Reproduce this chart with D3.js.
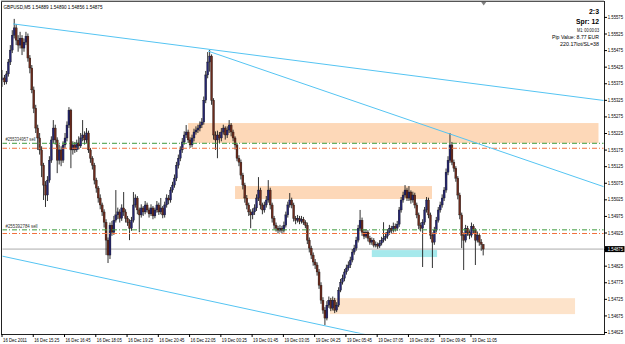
<!DOCTYPE html>
<html><head><meta charset="utf-8">
<script src="https://cdn.jsdelivr.net/npm/d3@7"></script>
<style>body{margin:0;background:#fff}svg{display:block}text{font-family:"Liberation Sans",Arial,sans-serif}</style>
</head><body><svg id="c" width="625" height="344"></svg>
<script>
// ---- data (GBPUSD M5) ----
const symbolTitle = "GBPUSD,M5  1.54889 1.54890 1.54856 1.54875";
const openP = [1.55385,1.55391,1.55379,1.55403,1.55439,1.55475,1.55520,1.55542,1.55505,1.55490,
1.55511,1.55481,1.55499,1.55517,1.55451,1.55421,1.55355,1.55300,1.55240,1.55210,
1.55174,1.55128,1.55068,1.55038,1.55083,1.55143,1.55204,1.55240,1.55204,1.55143,
1.55174,1.55143,1.55189,1.55210,1.55249,1.55294,1.55174,1.55189,1.55174,1.55195,
1.55186,1.55210,1.55219,1.55204,1.55225,1.55174,1.55149,1.55128,1.55083,1.55059,
1.55029,1.55008,1.54987,1.54956,1.54902,1.54857,1.54947,1.54926,1.54962,1.54978,
1.54987,1.54968,1.54999,1.54987,1.54968,1.54956,1.54938,1.54962,1.55008,1.55029,
1.54993,1.54978,1.54999,1.54987,1.55008,1.54993,1.54981,1.54999,1.54975,1.54993,
1.55008,1.54987,1.54999,1.54978,1.55008,1.55029,1.55023,1.55053,1.55068,1.55089,
1.55128,1.55149,1.55174,1.55198,1.55219,1.55228,1.55204,1.55189,1.55210,1.55228,
1.55234,1.55240,1.55249,1.55258,1.55324,1.55400,1.55439,1.55457,1.55324,1.55219,
1.55204,1.55219,1.55210,1.55228,1.55240,1.55219,1.55234,1.55249,1.55228,1.55210,
1.55189,1.55149,1.55137,1.55098,1.55068,1.55029,1.55008,1.54987,1.54978,1.54987,
1.54999,1.55029,1.55053,1.55008,1.54993,1.55008,1.55023,1.55053,1.55008,1.54968,
1.54947,1.54938,1.54932,1.54938,1.54932,1.54947,1.54978,1.55008,1.55023,1.55008,
1.54968,1.54962,1.54968,1.54959,1.54965,1.54956,1.54947,1.54902,1.54878,1.54857,
1.54836,1.54827,1.54806,1.54766,1.54721,1.54691,1.54667,1.54706,1.54721,1.54697,
1.54721,1.54691,1.54706,1.54751,1.54775,1.54787,1.54806,1.54818,1.54827,1.54842,
1.54866,1.54878,1.54902,1.54938,1.54962,1.54926,1.54914,1.54926,1.54908,1.54896,
1.54902,1.54887,1.54890,1.54884,1.54893,1.54902,1.54908,1.54914,1.54926,1.54938,
1.54932,1.54944,1.54938,1.54950,1.54993,1.55023,1.55038,1.55053,1.55029,1.55047,
1.55023,1.55038,1.55008,1.54978,1.54947,1.54938,1.54956,1.54993,1.55023,1.54978,
1.54917,1.54896,1.54932,1.54962,1.54993,1.55008,1.55029,1.55053,1.55107,1.55143,
1.55189,1.55137,1.55119,1.55089,1.55038,1.54978,1.54917,1.54902,1.54938,1.54926,
1.54917,1.54944,1.54932,1.54902,1.54917,1.54896,1.54889];
const highP = [1.55415,1.55400,1.55412,1.55448,1.55490,1.55535,1.55569,1.55553,1.55520,1.55530,
1.55520,1.55510,1.55530,1.55525,1.55460,1.55430,1.55365,1.55310,1.55250,1.55225,
1.55185,1.55135,1.55080,1.55095,1.55155,1.55215,1.55264,1.55250,1.55212,1.55190,
1.55185,1.55200,1.55225,1.55260,1.55303,1.55298,1.55200,1.55198,1.55205,1.55215,
1.55225,1.55264,1.55230,1.55240,1.55232,1.55180,1.55155,1.55135,1.55090,1.55065,
1.55040,1.55015,1.54995,1.54965,1.54910,1.54955,1.54960,1.54975,1.55053,1.55000,
1.54995,1.55010,1.55047,1.54995,1.54975,1.54965,1.54972,1.55047,1.55040,1.55035,
1.55000,1.55010,1.55005,1.55020,1.55015,1.55000,1.55010,1.55005,1.55000,1.55020,
1.55015,1.55029,1.55005,1.55018,1.55040,1.55038,1.55062,1.55078,1.55100,1.55138,
1.55160,1.55185,1.55210,1.55230,1.55249,1.55235,1.55212,1.55220,1.55238,1.55245,
1.55250,1.55260,1.55270,1.55335,1.55412,1.55469,1.55475,1.55462,1.55330,1.55230,
1.55232,1.55228,1.55240,1.55250,1.55245,1.55245,1.55264,1.55255,1.55235,1.55215,
1.55195,1.55158,1.55145,1.55105,1.55075,1.55038,1.55015,1.54995,1.54998,1.55010,
1.55040,1.55092,1.55060,1.55015,1.55018,1.55035,1.55083,1.55060,1.55015,1.54975,
1.54955,1.54945,1.54948,1.54945,1.54958,1.54988,1.55018,1.55044,1.55030,1.55015,
1.54975,1.54978,1.54975,1.54975,1.54972,1.54962,1.54955,1.54910,1.54885,1.54865,
1.54845,1.54835,1.54815,1.54775,1.54730,1.54700,1.54718,1.54732,1.54728,1.54732,
1.54728,1.54715,1.54760,1.54785,1.54798,1.54815,1.54828,1.54838,1.54852,1.54875,
1.54888,1.54912,1.54948,1.54993,1.54970,1.54935,1.54935,1.54932,1.54915,1.54910,
1.54908,1.54898,1.54895,1.54902,1.54912,1.54956,1.54925,1.54935,1.54948,1.54945,
1.54955,1.54952,1.54960,1.55002,1.55032,1.55048,1.55068,1.55060,1.55065,1.55052,
1.55048,1.55045,1.55015,1.54985,1.54955,1.54965,1.55002,1.55032,1.55030,1.54985,
1.54925,1.54942,1.54972,1.55002,1.55018,1.55040,1.55062,1.55118,1.55155,1.55225,
1.55198,1.55145,1.55125,1.55095,1.55045,1.54985,1.54925,1.54948,1.54945,1.54932,
1.54955,1.54950,1.54938,1.54928,1.54922,1.54905,1.54890];
const lowP = [1.55364,1.55370,1.55372,1.55395,1.55430,1.55466,1.55510,1.55490,1.55470,1.55480,
1.55460,1.55470,1.55490,1.55440,1.55405,1.55345,1.55285,1.55225,1.55174,1.55160,
1.55092,1.55023,1.55002,1.55020,1.55075,1.55135,1.55195,1.55190,1.55104,1.55130,
1.55125,1.55135,1.55180,1.55200,1.55240,1.55119,1.55160,1.55165,1.55168,1.55175,
1.55180,1.55200,1.55190,1.55195,1.55165,1.55135,1.55115,1.55070,1.55045,1.55015,
1.54995,1.54975,1.54940,1.54857,1.54833,1.54845,1.54915,1.54918,1.54955,1.54965,
1.54955,1.54960,1.54975,1.54955,1.54945,1.54902,1.54930,1.54955,1.55000,1.54980,
1.54926,1.54970,1.54975,1.54980,1.54985,1.54970,1.54975,1.54965,1.54968,1.54985,
1.54978,1.54980,1.54968,1.54970,1.55000,1.55010,1.55015,1.55045,1.55060,1.55080,
1.55118,1.55140,1.55165,1.55190,1.55210,1.55195,1.55180,1.55182,1.55200,1.55220,
1.55225,1.55230,1.55240,1.55250,1.55315,1.55390,1.55410,1.55310,1.55205,1.55174,
1.55149,1.55195,1.55200,1.55220,1.55205,1.55210,1.55225,1.55215,1.55200,1.55175,
1.55140,1.55125,1.55085,1.55055,1.55015,1.54995,1.54975,1.54938,1.54965,1.54978,
1.54990,1.55020,1.54995,1.54980,1.54985,1.55000,1.55015,1.54995,1.54955,1.54935,
1.54928,1.54922,1.54925,1.54922,1.54925,1.54940,1.54970,1.55000,1.54998,1.54958,
1.54950,1.54955,1.54950,1.54952,1.54948,1.54938,1.54890,1.54865,1.54845,1.54825,
1.54815,1.54795,1.54755,1.54710,1.54680,1.54646,1.54660,1.54698,1.54688,1.54690,
1.54682,1.54685,1.54700,1.54745,1.54768,1.54778,1.54798,1.54810,1.54818,1.54835,
1.54858,1.54870,1.54895,1.54930,1.54915,1.54905,1.54908,1.54898,1.54888,1.54888,
1.54880,1.54880,1.54876,1.54878,1.54886,1.54895,1.54900,1.54906,1.54918,1.54922,
1.54925,1.54928,1.54930,1.54942,1.54985,1.55015,1.55030,1.55020,1.55020,1.55012,
1.55015,1.54998,1.54968,1.54935,1.54928,1.54821,1.54948,1.54985,1.54968,1.54905,
1.54818,1.54888,1.54925,1.54955,1.54985,1.55000,1.55020,1.55045,1.55098,1.55135,
1.55128,1.55108,1.55078,1.55025,1.54965,1.54878,1.54812,1.54895,1.54915,1.54905,
1.54910,1.54922,1.54827,1.54895,1.54885,1.54870,1.54856];
const closeP = [1.55391,1.55379,1.55403,1.55439,1.55475,1.55520,1.55542,1.55505,1.55490,1.55511,
1.55481,1.55499,1.55517,1.55451,1.55421,1.55355,1.55300,1.55240,1.55210,1.55174,
1.55128,1.55068,1.55038,1.55083,1.55143,1.55204,1.55240,1.55204,1.55143,1.55174,
1.55143,1.55189,1.55210,1.55249,1.55294,1.55174,1.55189,1.55174,1.55195,1.55186,
1.55210,1.55219,1.55204,1.55225,1.55174,1.55149,1.55128,1.55083,1.55059,1.55029,
1.55008,1.54987,1.54956,1.54902,1.54857,1.54947,1.54926,1.54962,1.54978,1.54987,
1.54968,1.54999,1.54987,1.54968,1.54956,1.54938,1.54962,1.55008,1.55029,1.54993,
1.54978,1.54999,1.54987,1.55008,1.54993,1.54981,1.54999,1.54975,1.54993,1.55008,
1.54987,1.54999,1.54978,1.55008,1.55029,1.55023,1.55053,1.55068,1.55089,1.55128,
1.55149,1.55174,1.55198,1.55219,1.55228,1.55204,1.55189,1.55210,1.55228,1.55234,
1.55240,1.55249,1.55258,1.55324,1.55400,1.55439,1.55457,1.55324,1.55219,1.55204,
1.55219,1.55210,1.55228,1.55240,1.55219,1.55234,1.55249,1.55228,1.55210,1.55189,
1.55149,1.55137,1.55098,1.55068,1.55029,1.55008,1.54987,1.54978,1.54987,1.54999,
1.55029,1.55053,1.55008,1.54993,1.55008,1.55023,1.55053,1.55008,1.54968,1.54947,
1.54938,1.54932,1.54938,1.54932,1.54947,1.54978,1.55008,1.55023,1.55008,1.54968,
1.54962,1.54968,1.54959,1.54965,1.54956,1.54947,1.54902,1.54878,1.54857,1.54836,
1.54827,1.54806,1.54766,1.54721,1.54691,1.54667,1.54706,1.54721,1.54697,1.54721,
1.54691,1.54706,1.54751,1.54775,1.54787,1.54806,1.54818,1.54827,1.54842,1.54866,
1.54878,1.54902,1.54938,1.54962,1.54926,1.54914,1.54926,1.54908,1.54896,1.54902,
1.54887,1.54890,1.54884,1.54893,1.54902,1.54908,1.54914,1.54926,1.54938,1.54932,
1.54944,1.54938,1.54950,1.54993,1.55023,1.55038,1.55053,1.55029,1.55047,1.55023,
1.55038,1.55008,1.54978,1.54947,1.54938,1.54956,1.54993,1.55023,1.54978,1.54917,
1.54896,1.54932,1.54962,1.54993,1.55008,1.55029,1.55053,1.55107,1.55143,1.55189,
1.55137,1.55119,1.55089,1.55038,1.54978,1.54917,1.54902,1.54938,1.54926,1.54917,
1.54944,1.54932,1.54902,1.54917,1.54896,1.54889,1.54875];

// x-axis labels and the bar index each one belongs to
const xTickBars = [0,16,32,48,64,80,96,112,128,144,160,176,192,208,224,240];
const xTickLabels = ["16 Dec 2011","16 Dec 15:25","16 Dec 16:45","16 Dec 18:05","16 Dec 19:25","16 Dec 20:45","16 Dec 22:05","19 Dec 00:25","19 Dec 01:45","19 Dec 03:05","19 Dec 04:25","19 Dec 05:45","19 Dec 07:05","19 Dec 08:25","19 Dec 09:45","19 Dec 11:05"];
const yTicks = [1.55575,1.55525,1.55475,1.55425,1.55375,1.55325,1.55275,1.55225,1.55175,1.55125,1.55075,1.55025,1.54975,1.54925,1.54875,1.54825,1.54775,1.54725,1.54675,1.54625];

// trend lines: anchor points (bar index, price), drawn as rays to the right
const trendBar1 = [5.4, 105.2, -0.3];
const trendPrice1 = [1.55554, 1.55472, 1.54854];
const trendBar2 = [106.2, 229, 184.5];
const trendPrice2 = [1.55477, 1.55222, 1.54619];

// rectangles: bar start/end, price top/bottom
const rectBarStart = [95, 119, 167.6, 189];
const rectBarEnd = [305, 219.8, 293, 222.4];
const rectTop = [1.55255, 1.55065, 1.54727, 1.54872];
const rectBottom = [1.55195, 1.55026, 1.54679, 1.54851];
const rectColor = ["#fdd8b8", "#fdd8b8", "#fde3ca", "#a6e9ec"];

// order levels
const levelPrice = [1.55194, 1.55179, 1.54933, 1.54922];
const levelColor = ["#3c9a3c", "#f0703c", "#3c9a3c", "#f0703c"];
const orderLabels = ["#255334957 sell", "#255392784 sell"];
const orderLabelPrice = [1.55194, 1.54933];

const infoLines = ["2:3", "Spr: 12", "M1: 00:00:03", "Pip Value: 8.77 EUR", "220.17lot/SL=38"];

// ---- drawing ----
const svg = d3.select("#c");
const L = 2, R = 604, T = 2, B = 334;
const n = closeP.length;
const x = d3.scaleLinear().domain([0, 246]).range([2.5, 483.2]);
const y = d3.scaleLinear().domain([1.54616, 1.55626]).range([335, 0]);

svg.append("defs").append("clipPath").attr("id","clip")
  .append("rect").attr("x",L+0.5).attr("y",T+0.5).attr("width",R-L-1).attr("height",B-T-1);
const g = svg.append("g").attr("clip-path","url(#clip)");

// rectangles
g.selectAll("rect.zone").data(rectTop).join("rect")
  .attr("x",(d,i)=>x(rectBarStart[i])).attr("width",(d,i)=>x(rectBarEnd[i])-x(rectBarStart[i]))
  .attr("y",(d,i)=>y(rectTop[i])).attr("height",(d,i)=>y(rectBottom[i])-y(rectTop[i]))
  .attr("fill",(d,i)=>rectColor[i]);

// bid line
g.append("line").attr("x1",L).attr("x2",R).attr("y1",y(closeP[n-1])).attr("y2",y(closeP[n-1]))
  .attr("stroke","#cfcfcf").attr("stroke-width",1.6);

// candles
const idx = d3.range(n);
g.selectAll("line.wick").data(idx).join("line")
  .attr("x1",i=>x(i)).attr("x2",i=>x(i))
  .attr("y1",i=>y(highP[i])).attr("y2",i=>y(lowP[i]))
  .attr("stroke","#1b1b1b").attr("stroke-width",0.9);
g.selectAll("rect.body").data(idx).join("rect")
  .attr("x",i=>x(i)-1).attr("width",2)
  .attr("y",i=>y(Math.max(openP[i],closeP[i])))
  .attr("height",i=>Math.max(0.8, Math.abs(y(openP[i])-y(closeP[i]))))
  .attr("fill",i=>closeP[i]>=openP[i]?"#25256e":"#6a2a1c")
  .attr("stroke","#111").attr("stroke-width",0.3);

// order levels
g.selectAll("line.level").data(levelPrice).join("line")
  .attr("x1",L).attr("x2",R).attr("y1",d=>y(d)).attr("y2",d=>y(d))
  .attr("stroke",(d,i)=>levelColor[i]).attr("stroke-width",1)
  .attr("stroke-dasharray","5,2,1,2");
svg.selectAll("text.order").data(orderLabels).join("text")
  .attr("x",5.5).attr("y",(d,i)=>y(orderLabelPrice[i])-1.8)
  .attr("font-size",5.2).attr("fill","#333")
  .attr("textLength",(d,i)=>i===0?30:32).attr("lengthAdjust","spacingAndGlyphs")
  .text(d=>d);

// trend lines (rays)
const xEnd = x.invert(R);
g.selectAll("line.trend").data(trendBar1).join("line")
  .attr("x1",(d,i)=>x(trendBar1[i])).attr("y1",(d,i)=>y(trendPrice1[i]))
  .attr("x2",()=>x(xEnd))
  .attr("y2",(d,i)=>{const s=(trendPrice2[i]-trendPrice1[i])/(trendBar2[i]-trendBar1[i]);return y(trendPrice1[i]+s*(xEnd-trendBar1[i]));})
  .attr("stroke","#55c4f2").attr("stroke-width",1);

// frame
svg.append("rect").attr("x",L-0.5).attr("y",T-0.5).attr("width",R-L+1).attr("height",B-T+1)
  .attr("fill","none").attr("stroke","#222").attr("stroke-width",1);
svg.append("line").attr("x1",L-1).attr("x2",R).attr("y1",1).attr("y2",1).attr("stroke","#888").attr("stroke-width",1);
// shift marker
svg.append("path").attr("d",`M${x(n-1)-2},${T} L${x(n-1)+3},${T} L${x(n-1)+0.5},${T+3.5}Z`).attr("fill","#808080");

// y axis
const yAxis = svg.append("g").attr("transform",`translate(${R},0)`)
  .call(d3.axisRight(y).tickValues(yTicks).tickSize(3).tickFormat(d=>d.toFixed(5)));
yAxis.select(".domain").remove();
yAxis.selectAll("line").attr("stroke","#000");
yAxis.selectAll("text").attr("x",3.8).attr("dy","0.35em")
  .attr("font-size",4.5).attr("font-family","Liberation Sans, Arial, sans-serif")
  .attr("fill","#000").attr("textLength",15.2).attr("lengthAdjust","spacingAndGlyphs");

// current price box
const cp = closeP[n-1];
svg.append("rect").attr("x",R+1).attr("y",y(cp)-3).attr("width",19.5).attr("height",6).attr("fill","#000");
svg.append("text").attr("x",R+3.8).attr("y",y(cp)).attr("dy","0.35em").attr("font-size",4.5)
  .attr("fill","#fff").attr("textLength",15.2).attr("lengthAdjust","spacingAndGlyphs").text(cp.toFixed(5));

// x axis
const xAxis = svg.append("g").attr("transform",`translate(0,${B})`)
  .call(d3.axisBottom(x).tickValues(xTickBars).tickSize(3).tickFormat((d,i)=>xTickLabels[i]));
xAxis.select(".domain").remove();
xAxis.selectAll(".tick line").attr("stroke","#000").attr("transform","translate(-1,0)");
xAxis.selectAll("text").attr("text-anchor","start").attr("x",0).attr("y",7.6).attr("dy",0)
  .attr("font-size",5.2).attr("font-family","Liberation Sans, Arial, sans-serif").attr("fill","#000")
  .attr("textLength",(d,i)=>i===0?24:25).attr("lengthAdjust","spacingAndGlyphs");

// title
svg.append("text").attr("x",3.5).attr("y",8.6).attr("font-size",5.8).attr("fill","#000")
  .attr("textLength",99).attr("lengthAdjust","spacingAndGlyphs").text(symbolTitle);

// info block (top right)
const infoY = [14, 23.6, 31.6, 38.8, 46.2];
const infoSize = [7, 7, 5, 5, 5];
const infoBold = [true, true, false, false, false];
const infoLen = [10, 23, 22, 47, 39];
svg.selectAll("text.info").data(infoLines).join("text")
  .attr("x",599).attr("y",(d,i)=>infoY[i]).attr("text-anchor","end")
  .attr("font-size",(d,i)=>infoSize[i]).attr("font-weight",(d,i)=>infoBold[i]?"bold":"normal")
  .attr("fill","#000")
  .attr("textLength",(d,i)=>infoLen[i]).attr("lengthAdjust","spacingAndGlyphs")
  .text(d=>d);
</script></body></html>
